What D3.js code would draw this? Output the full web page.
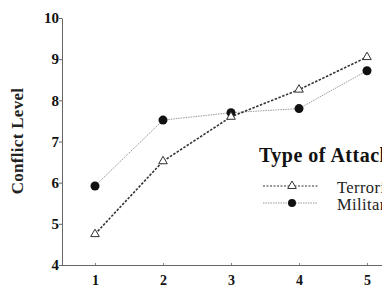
<!DOCTYPE html>
<html>
<head>
<meta charset="utf-8">
<script src="https://cdn.jsdelivr.net/npm/d3@7"></script>
<style>
  body { margin: 0; background: #fff; }
  svg, svg text { font-family: "Liberation Serif", "DejaVu Serif", serif; }
</style>
</head>
<body>
<script>
const width = 382, height = 297;

// data
const levels = [1, 2, 3, 4, 5];
const terrorism = [4.75, 6.52, 7.6, 8.26, 9.05];
const military = [5.92, 7.52, 7.7, 7.8, 8.72];
const yTicks = [4, 5, 6, 7, 8, 9, 10];

const svg = d3.select("body").append("svg")
  .attr("width", width)
  .attr("height", height);

const x = d3.scaleLinear().domain([0.5, 5.5]).range([61, 401]);
const y = d3.scaleLinear().domain([4, 10]).range([265, 18]);

// axes
const yAxis = svg.append("g")
  .attr("transform", "translate(62,0)")
  .call(d3.axisLeft(y).tickValues(yTicks).tickSize(3).tickSizeOuter(0)
    .tickFormat(d3.format("d")));
yAxis.attr("font-family", null);
yAxis.select(".domain").attr("stroke", "#666");
yAxis.selectAll(".tick line").attr("stroke", "#666");
yAxis.selectAll("text")
  .attr("font-size", 15).attr("font-weight", "bold").attr("fill", "#111")
  .attr("x", -3);

const xAxis = svg.append("g")
  .attr("transform", "translate(0,265)")
  .call(d3.axisBottom(x).tickValues(levels).tickSize(-2).tickSizeOuter(0)
    .tickFormat(d3.format("d")));
xAxis.attr("font-family", null);
xAxis.select(".domain").attr("stroke", "#666");
xAxis.selectAll(".tick line").attr("stroke", "#888");
xAxis.selectAll("text")
  .attr("font-size", 14).attr("font-weight", "bold").attr("fill", "#111")
  .attr("y", 10);

svg.append("text")
  .attr("transform", "translate(23,141) rotate(-90)")
  .attr("text-anchor", "middle")
  .attr("font-size", 17).attr("font-weight", "bold").attr("fill", "#222")
  .attr("letter-spacing", 0.3)
  .text("Conflict Level");

const line = d3.line()
  .x((d, i) => x(levels[i]))
  .y(d => y(d));

// military: thin light line with filled dots
svg.append("path")
  .datum(military)
  .attr("fill", "none")
  .attr("stroke", "#999")
  .attr("stroke-width", 1)
  .attr("stroke-dasharray", "1.5,1")
  .attr("d", line);

// terrorism: dashed dark line with open triangles
svg.append("path")
  .datum(terrorism)
  .attr("fill", "none")
  .attr("stroke", "#333")
  .attr("stroke-width", 1.6)
  .attr("stroke-dasharray", "2.5,1.5")
  .attr("d", line);

const tri = d3.symbol().type(d3.symbolTriangle).size(32);

svg.selectAll(".mil")
  .data(military)
  .enter()
    .append("circle")
    .attr("cx", (d, i) => x(levels[i]))
    .attr("cy", d => y(d))
    .attr("r", 4.5)
    .attr("fill", "#111");

svg.selectAll(".ter")
  .data(terrorism)
  .enter()
    .append("path")
    .attr("d", tri)
    .attr("transform", (d, i) => "translate(" + x(levels[i]) + "," + y(d) + ")")
    .attr("fill", "#fff")
    .attr("stroke", "#333")
    .attr("stroke-width", 1);

// legend (cut off at the right edge, as in the source)
const legend = svg.append("g");
legend.append("text")
  .attr("x", 259).attr("y", 162)
  .attr("font-size", 20).attr("font-weight", "bold").attr("fill", "#111")
  .attr("letter-spacing", 0.5)
  .text("Type of Attack");

const entries = [
  { name: "Terrorism", y: 186 },
  { name: "Military", y: 203 }
];

legend.append("line")
  .attr("x1", 263).attr("x2", 318).attr("y1", entries[0].y).attr("y2", entries[0].y)
  .attr("stroke", "#333").attr("stroke-width", 1.2).attr("stroke-dasharray", "2,1.5");
legend.append("path")
  .attr("d", tri)
  .attr("transform", "translate(292," + entries[0].y + ")")
  .attr("fill", "#fff").attr("stroke", "#333");

legend.append("line")
  .attr("x1", 263).attr("x2", 318).attr("y1", entries[1].y).attr("y2", entries[1].y)
  .attr("stroke", "#999").attr("stroke-width", 1).attr("stroke-dasharray", "1.5,1");
legend.append("circle")
  .attr("cx", 292).attr("cy", entries[1].y).attr("r", 4)
  .attr("fill", "#111");

legend.selectAll(".lab")
  .data(entries)
  .enter()
    .append("text")
    .attr("x", 337).attr("y", d => d.y + 7)
    .attr("font-size", 16.5).attr("fill", "#222")
    .attr("letter-spacing", 0.4)
    .text(d => d.name);
</script>
</body>
</html>
